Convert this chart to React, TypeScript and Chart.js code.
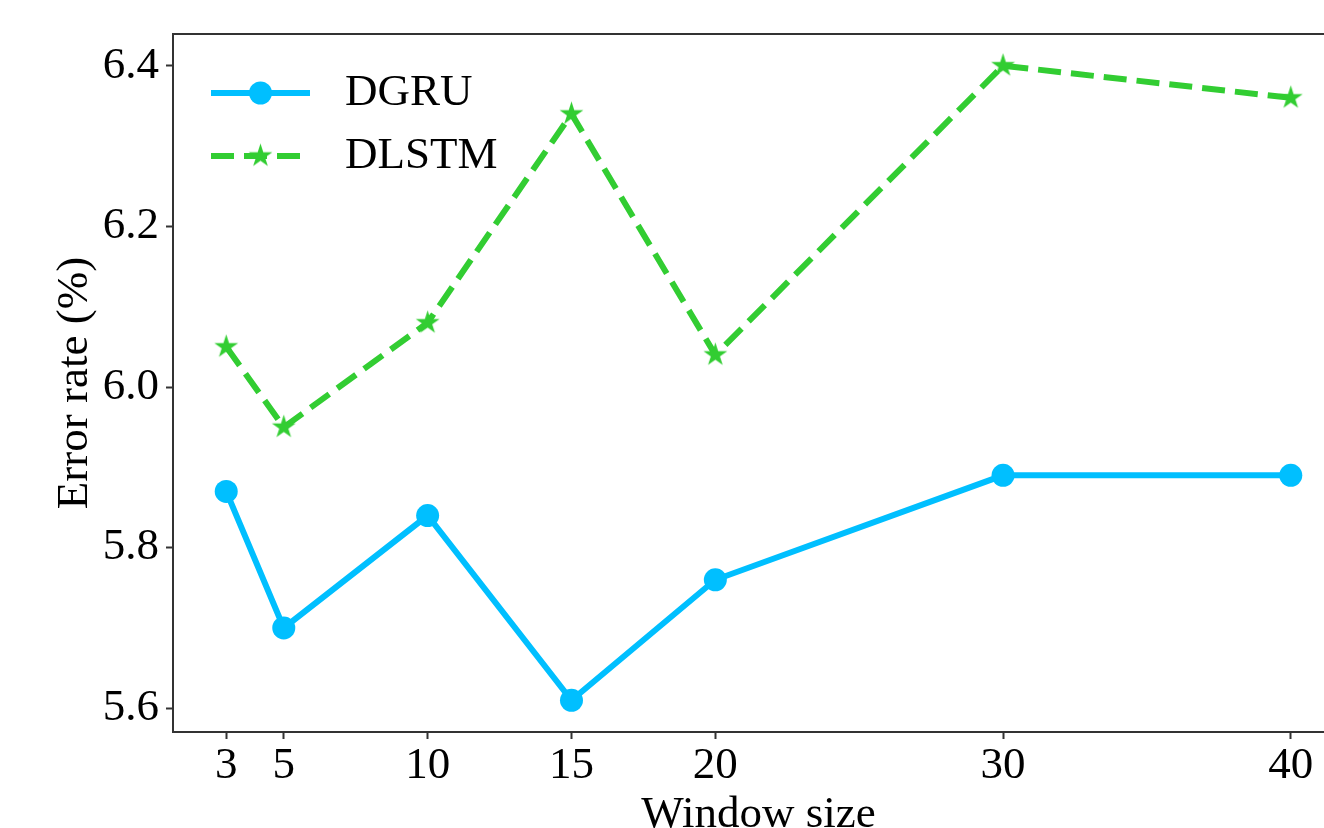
import React, { useEffect, useRef } from "react";
import { Chart, registerables } from "chart.js";

Chart.register(...registerables);

// ---- data ----
const windowSizes = [3, 5, 10, 15, 20, 30, 40];
const dgruValues = [5.87, 5.7, 5.84, 5.61, 5.76, 5.89, 5.89];
const dlstmValues = [6.05, 5.95, 6.08, 6.34, 6.04, 6.4, 6.36];
const xTickValues = [3, 5, 10, 15, 20, 30, 40];
const yTickValues = [5.6, 5.8, 6.0, 6.2, 6.4];
const seriesNames = ["DGRU", "DLSTM"];
const xTitle = "Window size";
const yTitle = "Error rate (%)";

// ---- style ----
const BLUE = "#00BFFF";
const GREEN = "#32CD32";
const FONT_FAMILY = "'Liberation Serif', 'Times New Roman', Times, serif";
const FONT_SIZE = 45;
const CANVAS_W = 1380;
const CANVAS_H = 880;
const AREA_LEFT = 173;
const AREA_TOP = 34;
const AREA_RIGHT = 1344;
const AREA_BOTTOM = 732;
const SPINE = "#333333";

function makeStar(color: string, R: number): HTMLCanvasElement {
  const size = Math.ceil(2 * R + 4);
  const c = document.createElement("canvas");
  c.width = size;
  c.height = size;
  const ctx = c.getContext("2d")!;
  const cx = size / 2;
  const cy = size / 2;
  const r = R * 0.382;
  ctx.beginPath();
  for (let i = 0; i < 10; i++) {
    const rad = i % 2 === 0 ? R : r;
    const a = -Math.PI / 2 + (i * Math.PI) / 5;
    const px = cx + rad * Math.cos(a);
    const py = cy + rad * Math.sin(a);
    if (i === 0) ctx.moveTo(px, py);
    else ctx.lineTo(px, py);
  }
  ctx.closePath();
  ctx.fillStyle = color;
  ctx.fill();
  return c;
}

const framePlugin = {
  id: "frame",
  afterDraw(chart: any) {
    const { ctx, chartArea } = chart;
    ctx.save();
    ctx.strokeStyle = SPINE;
    ctx.lineWidth = 2;
    ctx.strokeRect(chartArea.left, chartArea.top, chartArea.right - chartArea.left, chartArea.bottom - chartArea.top);
    ctx.restore();
  },
};

const legendPlugin = {
  id: "mplLegend",
  afterDraw(chart: any) {
    const { ctx, chartArea } = chart;
    const x0 = chartArea.left + 38;
    const x1 = chartArea.left + 137;
    const xm = (x0 + x1) / 2;
    const textX = chartArea.left + 172;
    const rows = [chartArea.top + 59, chartArea.top + 122];
    chart.data.datasets.forEach((ds: any, i: number) => {
      const y = rows[i];
      ctx.save();
      ctx.strokeStyle = ds.borderColor;
      ctx.lineWidth = ds.borderWidth;
      ctx.setLineDash(ds.borderDash || []);
      ctx.beginPath();
      ctx.moveTo(x0, y);
      ctx.lineTo(x1, y);
      ctx.stroke();
      ctx.setLineDash([]);
      if (typeof ds.pointStyle === "string") {
        ctx.fillStyle = ds.pointBackgroundColor;
        ctx.beginPath();
        ctx.arc(xm, y, ds.pointRadius, 0, Math.PI * 2);
        ctx.fill();
      } else {
        const img = ds.pointStyle as HTMLCanvasElement;
        ctx.drawImage(img, xm - img.width / 2, y - img.height / 2);
      }
      ctx.fillStyle = "#000";
      ctx.font = `${FONT_SIZE}px ${FONT_FAMILY}`;
      ctx.textAlign = "left";
      ctx.textBaseline = "middle";
      ctx.fillText(ds.label, textX, y);
      ctx.restore();
    });
  },
};

export default function App() {
  const canvasRef = useRef<HTMLCanvasElement | null>(null);

  useEffect(() => {
    const canvas = canvasRef.current;
    if (!canvas) return;
    const star = makeStar(GREEN, 12.5);
    const font = { family: FONT_FAMILY, size: FONT_SIZE };
    const gridOpts = {
      drawOnChartArea: false,
      drawTicks: true,
      tickLength: 7,
      tickWidth: 2,
      tickColor: SPINE,
      color: SPINE,
    };
    const chart = new Chart(canvas, {
      type: "line",
      data: {
        datasets: [
          {
            label: seriesNames[0],
            data: windowSizes.map((x, i) => ({ x, y: dgruValues[i] })),
            borderColor: BLUE,
            backgroundColor: BLUE,
            borderWidth: 6,
            pointStyle: "circle",
            pointRadius: 11.5,
            pointBorderWidth: 0,
            pointBackgroundColor: BLUE,
            pointBorderColor: BLUE,
            tension: 0,
            fill: false,
          },
          {
            label: seriesNames[1],
            data: windowSizes.map((x, i) => ({ x, y: dlstmValues[i] })),
            borderColor: GREEN,
            backgroundColor: GREEN,
            borderWidth: 6,
            borderDash: [23, 10],
            pointStyle: star as any,
            pointRadius: 12,
            pointBorderWidth: 0,
            pointBackgroundColor: GREEN,
            tension: 0,
            fill: false,
          },
        ],
      },
      options: {
        responsive: false,
        animation: false,
        events: [],
        layout: {
          padding: { left: 0, top: AREA_TOP, right: CANVAS_W - AREA_RIGHT, bottom: 0 },
        },
        plugins: {
          legend: { display: false },
          tooltip: { enabled: false },
        },
        scales: {
          x: {
            type: "linear",
            min: 1.15,
            max: 41.85,
            afterBuildTicks: (s: any) => {
              s.ticks = xTickValues.map((v) => ({ value: v }));
            },
            afterFit: (s: any) => {
              s.height = CANVAS_H - AREA_BOTTOM;
            },
            ticks: {
              font,
              color: "#000",
              padding: 0,
              maxRotation: 0,
              autoSkip: false,
              callback: (v: any) => String(v),
            },
            grid: gridOpts,
            border: { display: false },
            title: {
              display: true,
              text: xTitle,
              font,
              color: "#000",
              padding: { top: 0, bottom: 38 },
            },
          },
          y: {
            type: "linear",
            min: 5.5705,
            max: 6.4395,
            afterBuildTicks: (s: any) => {
              s.ticks = yTickValues.map((v) => ({ value: v }));
            },
            afterFit: (s: any) => {
              s.width = AREA_LEFT;
            },
            ticks: {
              font,
              color: "#000",
              padding: 7,
              autoSkip: false,
              callback: (v: any) => Number(v).toFixed(1),
            },
            grid: gridOpts,
            border: { display: false },
            title: {
              display: true,
              text: yTitle,
              font,
              color: "#000",
              padding: { top: 48, bottom: 0 },
            },
          },
        },
      } as any,
      plugins: [framePlugin, legendPlugin],
    });
    return () => chart.destroy();
  }, []);

  return (
    <div
      style={{
        position: "fixed",
        left: 0,
        top: 0,
        width: 1324,
        height: 828,
        overflow: "hidden",
        background: "#fff",
      }}
    >
      <canvas
        ref={canvasRef}
        width={CANVAS_W}
        height={CANVAS_H}
        style={{ display: "block", width: CANVAS_W, height: CANVAS_H }}
      />
    </div>
  );
}
